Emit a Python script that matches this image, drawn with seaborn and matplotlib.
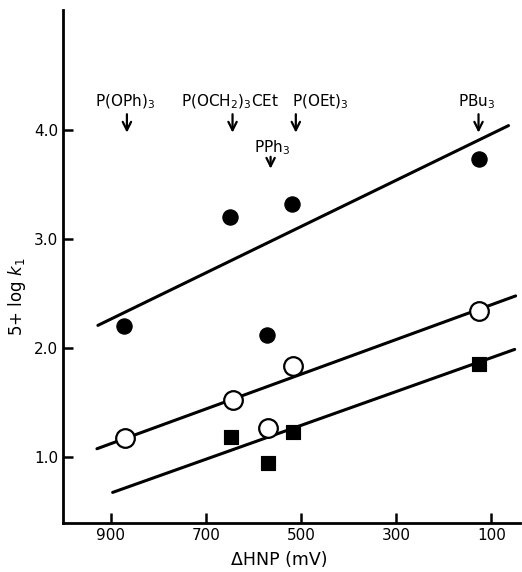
import numpy as np
import pandas as pd
import matplotlib
matplotlib.use('Agg')
import matplotlib.pyplot as plt
import seaborn as sns

# ---- data ----
# filled circles
filled_x = [873, 650, 518, 572, 127]
filled_y = [2.20, 3.20, 3.32, 2.12, 3.73]
# open circles
open_x = [869, 642, 516, 570, 127]
open_y = [1.18, 1.53, 1.84, 1.27, 2.34]
# filled squares
square_x = [648, 516, 570, 127]
square_y = [1.19, 1.23, 0.95, 1.86]

# straight lines (end points)
line_top_x = [927, 64]
line_top_y = [2.21, 4.04]
line_mid_x = [929, 49]
line_mid_y = [1.08, 2.48]
line_low_x = [896, 51]
line_low_y = [0.68, 1.99]

# ligand labels, arrow positions and where the label text sits
ligands = ['P(OPh)$_3$', 'P(OCH$_2$)$_3$CEt', 'PPh$_3$', 'P(OEt)$_3$', 'PBu$_3$']
ligand_x = [866, 644, 564, 511, 127]
label_x = [870, 650, 560, 518, 130]
label_ha = ['center', 'center', 'center', 'left', 'center']

sns.set_style("ticks")
plt.rcParams['font.family'] = ['DejaVu Sans']
plt.rcParams['text.color'] = 'black'
plt.rcParams['axes.labelcolor'] = 'black'
plt.rcParams['xtick.color'] = 'black'
plt.rcParams['ytick.color'] = 'black'

fig = plt.figure(figsize=(5.22, 5.72), dpi=100)
ax = fig.add_axes([0.121, 0.0857, 0.875, 0.897])

pts = pd.DataFrame({
    'x': filled_x + open_x + square_x,
    'y': filled_y + open_y + square_y,
    'kind': ['filled'] * len(filled_x) + ['open'] * len(open_x) + ['square'] * len(square_x),
})

lines = pd.DataFrame({
    'x': line_top_x + line_mid_x + line_low_x,
    'y': line_top_y + line_mid_y + line_low_y,
    'grp': ['top'] * 2 + ['mid'] * 2 + ['low'] * 2,
})

sns.lineplot(data=lines, x='x', y='y', units='grp', estimator=None,
             color='black', linewidth=2.2, ax=ax, sort=False)

d = pts[pts.kind == 'filled']
sns.scatterplot(x=d.x, y=d.y, marker='o', s=120, color='black',
                edgecolor='black', ax=ax, zorder=3)
d = pts[pts.kind == 'open']
sns.scatterplot(x=d.x, y=d.y, marker='o', s=180, color='white',
                edgecolor='black', linewidth=1.6, ax=ax, zorder=3)
d = pts[pts.kind == 'square']
sns.scatterplot(x=d.x, y=d.y, marker='s', s=105, color='black',
                edgecolor='black', ax=ax, zorder=3)

ax.set_xlim(1000, 40)
ax.set_ylim(0.4, 5.1)
ax.set_xticks([900, 700, 500, 300, 100])
ax.set_yticks([1.0, 2.0, 3.0, 4.0])
ax.set_yticklabels(['1.0', '2.0', '3.0', '4.0'])
ax.tick_params(direction='in', length=7, width=1.8, labelsize=11)
for s in ['left', 'bottom']:
    ax.spines[s].set_linewidth(2.0)
    ax.spines[s].set_color('black')
sns.despine(ax=ax)

ax.set_xlabel('ΔHNP (mV)', fontsize=12.5)
ax.set_ylabel('5+ log $k_1$', fontsize=12)
ax.xaxis.set_label_coords(0.473, -0.055)
ax.yaxis.set_label_coords(-0.077, 0.44)

# ligand labels with arrows
for name, lx, tx, ha in zip(ligands, ligand_x, label_x, label_ha):
    if name == 'PPh$_3$':
        ty, a_top, a_tip = 3.80, 3.78, 3.62
    else:
        ty, a_top, a_tip = 4.22, 4.17, 3.95
    ax.annotate('', xy=(lx, a_tip), xytext=(lx, a_top),
                arrowprops=dict(arrowstyle='->', color='black', lw=1.6,
                                mutation_scale=15))
    ax.text(tx, ty, name, ha=ha, va='baseline', fontsize=11)

fig.savefig('out.png', dpi=100)
